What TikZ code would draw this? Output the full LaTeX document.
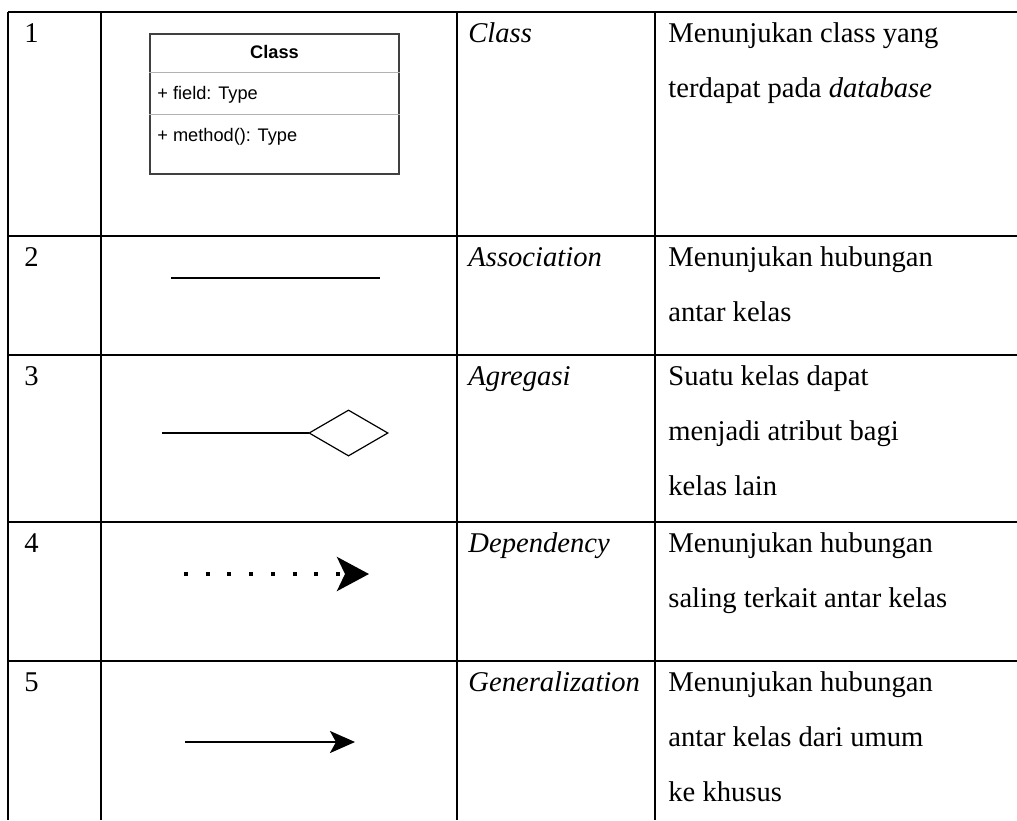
\documentclass[tikz,border=0pt]{standalone}
\usepackage{fontspec}
\setmainfont{Liberation Serif}
\setsansfont{Liberation Sans}
\usetikzlibrary{arrows.meta}
\tikzstyle{cellText}=[anchor = base west, align = left, inner sep = 0pt, font = \fontsize{14.3}{27.5}\selectfont]
\tikzstyle{termText}=[anchor = base west, inner sep = 0pt, font = \fontsize{14.3}{27.5}\selectfont\itshape]
\tikzstyle{gridLine}=[line width = 0.6pt]

\begin{document}
\begin{tikzpicture}[x = 0.5pt, y = -0.5pt]
\tikzstyle{classBox}=[draw = black!75, line width = 0.6pt, minimum width = 124.5pt, minimum height = 70pt, inner sep = 0pt]
\tikzstyle{classPart}=[draw = black!30, line width = 0.5pt]
\tikzstyle{umlText}=[anchor = base west, inner sep = 0pt, font = \sffamily\fontsize{9.1}{11}\selectfont]
\tikzstyle{assocLine}=[line width = 1.2pt]
\tikzstyle{aggLine}=[line width = 0.6pt, -{Diamond[open, length = 40.5pt, width = 23.5pt]}]
\tikzstyle{depLine}=[line width = 2pt, dash pattern = on 2pt off 8.85pt, -{Stealth[length = 16pt, width = 17pt, inset = 4pt]}]
\tikzstyle{genLine}=[line width = 1.3pt, -{Stealth[length = 12.5pt, width = 11pt, inset = 3pt]}]
\useasboundingbox (0,0) rectangle (1017,820);
\foreach \y in {12,236,355,522,661} \draw[gridLine] (8,\y) -- (1017,\y);
\foreach \x in {8,101,457,655} \draw[gridLine] (\x,12) -- (\x,820);
\node[cellText] (n1) at (24,42) {1};
\node[cellText] (n2) at (24,266) {2};
\node[cellText] (n3) at (24,385) {3};
\node[cellText] (n4) at (24,552) {4};
\node[cellText] (n5) at (24,691) {5};
\node[classBox] (cls) at (274.5,104) {};
\draw[classPart] (cls.west |- 0,72) -- (cls.east |- 0,72);
\draw[classPart] (cls.west |- 0,114) -- (cls.east |- 0,114);
\node[umlText, anchor = base, font = \sffamily\bfseries\fontsize{9.1}{11}\selectfont] (clsName) at (274.5,58) {Class};
\node[umlText] (clsField) at (157,99) {+ field: Type};
\node[umlText] (clsMethod) at (157,141) {+ method(): Type};
\coordinate (as1) at (171,278);
\coordinate (as2) at (380,278);
\draw[assocLine] (as1) -- (as2);
\coordinate (ag1) at (162,433);
\coordinate (ag2) at (389,433);
\draw[aggLine] (ag1) -- (ag2);
\coordinate (dp1) at (184,574);
\coordinate (dp2) at (369,574);
\draw[depLine] (dp1) -- (dp2);
\coordinate (gn1) at (185,742);
\coordinate (gn2) at (355,742);
\draw[genLine] (gn1) -- (gn2);
\node[termText] (t1) at (468,42) {Class};
\node[termText] (t2) at (468,266) {Association};
\node[termText] (t3) at (468,385) {Agregasi};
\node[termText] (t4) at (468,552) {Dependency};
\node[termText] (t5) at (468,691) {Generalization};
\node[cellText] (d1) at (668,97) {Menunjukan class yang\\terdapat pada \textit{database}};
\node[cellText] (d2) at (668,321) {Menunjukan hubungan\\antar kelas};
\node[cellText] (d3) at (668,495) {Suatu kelas dapat\\menjadi atribut bagi\\kelas lain};
\node[cellText] (d4) at (668,607) {Menunjukan hubungan\\saling terkait antar kelas};
\node[cellText] (d5) at (668,801) {Menunjukan hubungan\\antar kelas dari umum\\ke khusus};
\end{tikzpicture}
\end{document}
